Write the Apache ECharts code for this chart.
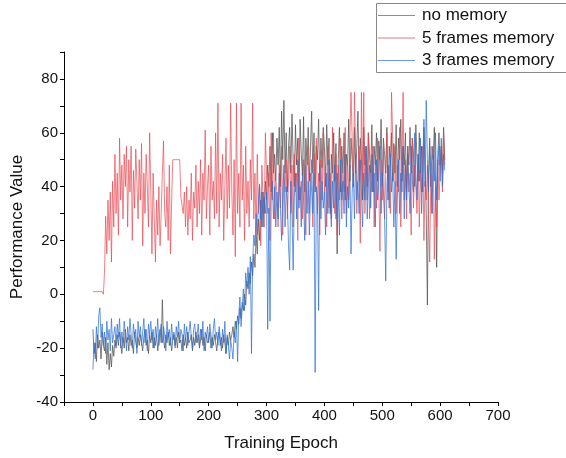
<!DOCTYPE html>
<html><head><meta charset="utf-8">
<script src="https://cdn.jsdelivr.net/npm/echarts@6/dist/echarts.min.js"></script>
<style>html,body{margin:0;padding:0;background:#fff}#c{width:566px;height:458px}</style>
</head><body><div id="c"></div>
<script>
// epochs: one value every 2 epochs, starting at 0
const epochStep = 2;
const seriesNames = ["no memory", "5 frames memory", "3 frames memory"];
const xTicks = [0,100,200,300,400,500,600,700];
const yTicks = [-40,-20,0,20,40,60,80];

const noMemory = [
 -13,-22,-18,-25,-15,-20,-17,-24,-14,-19,
 -21,-16,-26,-18,-28,-22,-27,-19,-23,-17,
 -20,-15,-19,-14,-18,-22,-16,-20,-13,-18,
 -16,-21,-15,-19,-17,-22,-14,-18,-20,-16,
 -19,-15,-18,-21,-16,-13,-19,-17,-22,-15,
 -18,-14,-20,-16,-19,-15,-21,-17,-13,-18,
 -2,-17,-20,-15,-18,-14,-19,-16,-21,-17,
 -15,-19,-16,-20,-14,-18,-17,-21,-15,-19,
 -16,-20,-14,-18,-17,-15,-21,-16,-19,-14,
 -18,-15,-20,-17,-13,-19,-16,-21,-15,-18,
 -17,-14,-20,-16,-19,-15,-18,-21,-16,-14,
 -19,-16,-20,-15,-18,-22,-16,-19,-14,-17,
 -15,-12,-16,-10,-13,-8,-11,-5,-9,-3,
 -6,0,-4,5,2,8,4,12,7,15,
 10,22,15,28,20,35,25,38,30,42,
 35,48,40,55,38,60,45,52,42,58,
 48,62,40,68,50,72,45,60,38,55,
 62,45,67,50,40,63,48,58,35,65,
 52,44,66,38,58,48,62,42,55,68,
 45,60,38,55,50,65,42,58,47,62,
 55,40,63,48,58,30,52,45,60,42,
 56,15,50,62,38,55,45,60,35,52,
 48,65,42,58,50,40,62,45,55,68,
 42,58,50,35,62,48,55,40,60,52,
 45,63,38,55,48,60,42,57,50,65,
 40,58,52,45,62,35,55,48,60,42,
 56,45,63,40,58,50,65,42,55,48,
 60,38,55,48,62,45,58,52,40,63,
 50,42,60,45,55,38,62,48,30,-4,
 45,58,40,55,50,62,42,10,52,60,
 48,55,45,62,50
];

const fiveFrames = [
 1,1,1,1,1,1,1,1,1,0,
 8,29,15,35,20,38,12,42,25,52,
 30,45,22,58,35,48,28,52,40,55,
 25,50,38,55,20,46,32,54,42,28,
 50,35,56,18,45,30,52,40,25,60,
 38,15,45,28,12,35,22,40,18,30,
 45,57,30,25,40,20,48,15,35,50,
 50,50,50,50,50,50,36,36,30,38,
 25,40,22,35,28,45,20,38,32,48,
 25,42,30,50,22,45,35,61,28,40,
 48,22,55,35,42,28,60,30,71,25,
 45,35,52,20,40,58,28,48,32,71,
 38,22,50,14,71,30,45,25,71,35,
 48,20,55,30,42,25,50,35,71,28,
 45,22,52,30,40,18,48,35,25,60,
 60,30,45,20,60,35,60,28,42,38,
 25,48,32,55,22,45,38,50,28,42,
 55,30,48,25,52,38,45,20,58,35,
 42,28,50,35,22,48,55,30,45,38,
 25,52,40,58,30,45,22,50,35,60,
 38,48,25,55,32,45,28,62,40,30,
 52,22,48,35,58,28,45,38,62,30,
 50,35,58,75,75,40,75,75,30,45,
 55,19,75,42,75,30,50,35,60,28,
 45,38,55,25,48,32,58,40,16,50,
 35,55,28,45,60,38,48,30,75,75,
 42,55,30,48,38,62,25,45,75,35,
 50,28,55,38,45,22,58,32,48,40,
 30,52,25,45,38,55,20,42,35,48,
 28,12,45,30,55,13,40,25,50,35,
 45,55,38,60,48
];

const threeFrames = [
 -28,-18,-24,-12,-20,-8,-5,-16,-11,-19,
 -14,-22,-10,-17,-13,-21,-9,-18,-15,-12,
 -19,-11,-16,-9,-20,-14,-18,-10,-15,-21,
 -12,-17,-9,-15,-20,-11,-16,-13,-22,-10,
 -16,-12,-19,-14,-9,-18,-13,-21,-11,-15,
 -10,-17,-13,-20,-12,-16,-9,-19,-14,-11,
 -18,-12,-15,-21,-10,-16,-13,-19,-11,-17,
 -14,-20,-12,-16,-10,-18,-13,-15,-21,-11,
 -17,-12,-19,-14,-10,-16,-20,-13,-11,-18,
 -15,-11,-19,-13,-17,-10,-21,-14,-16,-12,
 -18,-11,-15,-20,-13,-9,-17,-14,-19,-12,
 -16,-21,-13,-18,-10,-22,-15,-19,-24,-17,
 -20,-24,-14,-18,-10,-25,-8,-1,-12,-5,
 2,-6,8,3,10,0,14,-22,12,22,
 18,30,22,35,41,28,38,25,36,30,
 38,-13,32,-10,35,42,28,40,25,38,
 28,45,32,20,38,48,25,40,35,18,
 9,42,30,9,36,45,28,50,32,40,
 25,45,35,20,48,30,42,22,38,50,
 30,45,-29,40,35,-6,48,28,42,32,
 38,22,45,30,50,35,25,42,32,48,
 28,45,38,22,50,35,42,30,52,25,
 40,32,48,15,38,45,28,52,35,42,
 30,50,38,25,45,35,55,28,42,48,
 32,52,38,45,25,50,35,42,55,30,
 45,38,28,5,40,48,32,52,38,45,
 25,42,13,35,50,30,45,38,55,28,
 48,35,52,40,30,55,42,38,60,45,
 35,52,42,58,30,48,65,40,72,50,
 38,55,45,30,52,42,60,35,48,55,
 42,58,40,52,46
];

function pairs(arr){ return arr.map((v,i)=>[i*epochStep, v]); }

const chart = echarts.init(document.getElementById('c'), null, {renderer:'canvas'});
const font = 'Liberation Sans, Arial, sans-serif';
const colors = ['#4d4d4d', '#e8444f', '#2d6fd3'];
const legendColors = ['#8e8e8e', '#e4787d', '#6a9be0'];
const legendRowY = [15.5, 38, 60.5];

const legendGraphics = [{
  type: 'rect', shape: {x: 376.5, y: 3.5, width: 200, height: 69},
  style: {fill: '#fff', stroke: '#888', lineWidth: 1}, z: 100
}];
seriesNames.forEach((n, i) => {
  legendGraphics.push({
    type: 'line', shape: {x1: 378, y1: legendRowY[i], x2: 415, y2: legendRowY[i]},
    style: {stroke: legendColors[i], lineWidth: 1}, z: 101
  });
  legendGraphics.push({
    type: 'text', x: 422, y: legendRowY[i],
    style: {text: n, font: '17px ' + font, fill: '#111', textVerticalAlign: 'middle', verticalAlign: 'middle'},
    z: 101
  });
});

chart.setOption({
  animation: false,
  backgroundColor: '#fff',
  grid: {left: 64, right: 68, top: 52, bottom: 56, containLabel: false},
  legend: {show: false, data: seriesNames},
  graphic: legendGraphics,
  xAxis: {
    type: 'value', min: -50, max: 700, interval: 50,
    name: 'Training Epoch', nameLocation: 'middle', nameGap: 33,
    nameTextStyle: {fontFamily: font, fontSize: 17, color: '#111'},
    axisLine: {show: true, onZero: false, lineStyle: {color: '#000', width: 1}},
    axisTick: {show: true, inside: false, length: 4, lineStyle: {color: '#000'}},
    axisLabel: {fontFamily: font, fontSize: 15, color: '#111', margin: 6,
      formatter: v => xTicks.includes(v) ? String(v) : ''},
    splitLine: {show: false}
  },
  yAxis: {
    type: 'value', min: -40, max: 90, interval: 10,
    name: 'Performance Value', nameLocation: 'middle', nameGap: 38,
    nameTextStyle: {fontFamily: font, fontSize: 17, color: '#111'},
    axisLine: {show: true, onZero: false, lineStyle: {color: '#000', width: 1}},
    axisTick: {show: true, inside: false, length: 4, lineStyle: {color: '#000'}},
    axisLabel: {fontFamily: font, fontSize: 15, color: '#111', margin: 6,
      formatter: v => yTicks.includes(v) ? String(v) : ''},
    splitLine: {show: false}
  },
  series: [
    {name: seriesNames[0], type: 'line', symbol: 'none', data: pairs(noMemory),
     color: colors[0], lineStyle: {width: 0.8, color: colors[0], opacity: 0.9}},
    {name: seriesNames[1], type: 'line', symbol: 'none', data: pairs(fiveFrames),
     color: colors[1], lineStyle: {width: 0.8, color: colors[1], opacity: 0.85}},
    {name: seriesNames[2], type: 'line', symbol: 'none', data: pairs(threeFrames),
     color: colors[2], lineStyle: {width: 0.8, color: colors[2], opacity: 0.9}}
  ]
});
</script></body></html>
